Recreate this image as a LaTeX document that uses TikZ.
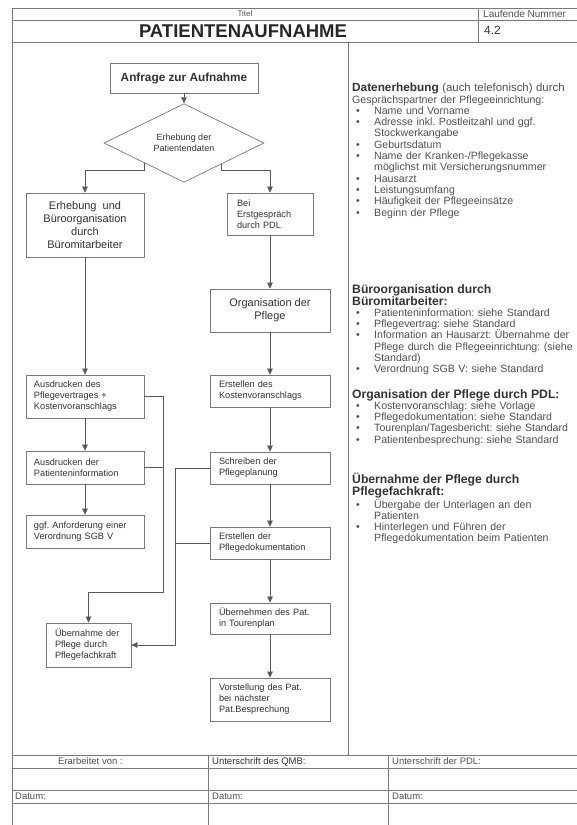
\documentclass[tikz,border=0pt]{standalone}
\usepackage{fontspec}
\setmainfont{Liberation Sans}
\usepackage{tikz}
\usetikzlibrary{arrows.meta,calc,positioning,shapes.geometric}
\definecolor{rulegray}{HTML}{7A7A7A}
\definecolor{ink}{HTML}{333333}
\definecolor{softink}{HTML}{505050}
\frenchspacing
\tikzset{
  flowbox/.style={draw=rulegray, line width=0.7pt, fill=white, inner sep=0pt,
    text=ink, align=left, font=\fontsize{9.2}{11}\selectfont},
  bigbox/.style={flowbox, align=center, font=\fontsize{11}{13}\selectfont},
  decision/.style={diamond, draw=rulegray, line width=0.7pt, inner sep=0pt,
    minimum width=160pt, minimum height=52pt, align=center, text=ink,
    font=\fontsize{9}{11.5}\selectfont},
  arr/.style={draw=black!65, line width=0.6pt, -{Triangle[length=6pt,width=5.5pt]}},
  plainlink/.style={draw=black!65, line width=0.6pt},
  rulestroke/.style={draw=rulegray, line width=0.8pt},
  infotext/.style={anchor=north west, inner sep=0pt, text width=240pt, align=left,
    text=softink, font=\fontsize{10.6}{11.3}\selectfont},
  formtext/.style={anchor=west, inner sep=0pt, text=softink, font=\fontsize{9.5}{10}\selectfont}
}
\newcommand{\infoitem}[1]{\par\hangindent=22pt\hangafter=1\noindent\hbox to 22pt{\hspace{4pt}\textbullet\hfil}#1\par}
\newcommand{\infohead}[1]{{\color{ink}\bfseries\fontsize{12.2}{12}\selectfont #1\par}}

\begin{document}
\begin{tikzpicture}[x=1pt,y=-1pt]
\useasboundingbox (0,0) rectangle (577,825);

% form frame
\draw[rulestroke] (12,825) -- (12,8) -- (577,8);
\draw[rulestroke] (12,20) -- (577,20);
\draw[rulestroke] (12,42) -- (577,42);
\draw[rulestroke] (478,8) -- (478,42);
\draw[rulestroke] (348,42) -- (348,755);
\foreach \y in {755,768,790,803}
  \draw[rulestroke] (12,\y) -- (577,\y);
\foreach \x in {208,388}
  \draw[rulestroke] (\x,755) -- (\x,825);

% header
\node[inner sep=0pt, text=softink, font=\fontsize{8}{9}\selectfont] (titel) at (245,14) {Titel};
\node[inner sep=0pt, text=black!85, font=\bfseries\fontsize{18.5}{20}\selectfont] (titelname) at (243,31.5) {PATIENTENAUFNAHME};
\node[formtext, font=\fontsize{10}{10}\selectfont] (lfdnr) at (483,14) {Laufende Nummer};
\node[formtext, text=ink, font=\fontsize{12}{13}\selectfont] (nummer) at (484,30) {4.2};

% footer
\node[formtext] (erarbeitet) at (58,761.5) {Erarbeitet von :};
\node[formtext, text=ink] (qmb) at (212,761.5) {Unterschrift des QMB:};
\node[formtext] (pdl) at (392,761.5) {Unterschrift der PDL:};
\node[formtext] (datum1) at (15,796.5) {Datum:};
\node[formtext] (datum2) at (212,796.5) {Datum:};
\node[formtext] (datum3) at (392,796.5) {Datum:};

% flowchart
\node[flowbox, align=center, minimum width=148pt, minimum height=30pt,
  font=\bfseries\fontsize{11.8}{13}\selectfont] (anfrage) at (184,78) {Anfrage zur Aufnahme};
\node[decision] (erhebung) at (184,143) {Erhebung der\\Patientendaten};

\node[bigbox, minimum width=118pt, minimum height=64pt] (bueroorg) at (85,225) {Erhebung\ \ und\\Büroorganisation\\durch\\Büromitarbeiter};
\node[flowbox, minimum width=118pt, minimum height=43pt, text width=102pt] (vertrag) at (85,396.5) {Ausdrucken des\\Pflegevertrages +\\Kostenvoranschlags};
\node[flowbox, minimum width=118pt, minimum height=33pt, text width=102pt] (patinfo) at (85,467.5) {Ausdrucken der\\Patienteninformation};
\node[flowbox, minimum width=118pt, minimum height=33pt, text width=102pt] (verordnung) at (85,531.5) {ggf. Anforderung einer\\Verordnung SGB V};
\node[flowbox, minimum width=85pt, minimum height=44pt, text width=67pt] (uebernahme) at (88.5,645) {Übernahme der\\Pflege durch\\Pflegefachkraft};

\node[flowbox, minimum width=86pt, minimum height=42pt, text width=66pt] (erstgespraech) at (270,214) {Bei\\Erstgespräch\\durch PDL};
\node[bigbox, minimum width=120pt, minimum height=43pt] (orgpflege) at (270,310.5) {Organisation der\\Pflege};
\node[flowbox, minimum width=120pt, minimum height=32pt, text width=102pt] (kostenvor) at (270,391) {Erstellen des\\Kostenvoranschlags};
\node[flowbox, minimum width=120pt, minimum height=32pt, text width=102pt] (planung) at (270,468) {Schreiben der\\Pflegeplanung};
\node[flowbox, minimum width=120pt, minimum height=32pt, text width=102pt] (doku) at (270,543) {Erstellen der\\Pflegedokumentation};
\node[flowbox, minimum width=120pt, minimum height=31pt, text width=102pt] (tourenplan) at (270,618.5) {Übernehmen des Pat.\\in Tourenplan};
\node[flowbox, minimum width=120pt, minimum height=43pt, text width=102pt] (vorstellung) at (270,699.5) {Vorstellung des Pat.\\bei nächster\\Pat.Besprechung};

% connectors
\draw[arr] (anfrage) -- (erhebung);
\draw[arr] (erhebung.south west) -- (erhebung.south west |- 0,170) -| (bueroorg.north);
\draw[arr] (erhebung.-30) -- (erhebung.-30 |- 0,170) -| (erstgespraech.north);
\foreach \a/\b in {bueroorg/vertrag, vertrag/patinfo, patinfo/verordnung,
    erstgespraech/orgpflege, orgpflege/kostenvor, kostenvor/planung,
    planung/doku, doku/tourenplan, tourenplan/vorstellung}
  \draw[arr] (\a) -- (\b);

\coordinate (busL) at (163,592);
\draw[arr] (vertrag.east) -| (busL) -| (uebernahme.north);
\draw[plainlink] (patinfo.east) -- (patinfo.east -| busL);
\coordinate (busR) at (175,645);
\draw[arr] (planung.west) -| (busR) -- (uebernahme.east);
\draw[plainlink] (doku.west) -- (doku.west -| busR);

% notes on the right
\node[infotext] (datenerhebung) at (352,83) {%
  {\color{ink}\bfseries\fontsize{11.8}{11.3}\selectfont Datenerhebung} {\fontsize{11.4}{11.3}\selectfont(auch telefonisch) durch}\\Gesprächspartner der Pflegeeinrichtung:
  \infoitem{Name und Vorname}
  \infoitem{Adresse inkl. Postleitzahl und ggf.\newline Stockwerkangabe}
  \infoitem{Geburtsdatum}
  \infoitem{Name der Kranken-/Pflegekasse\newline möglichst mit Versicherungsnummer}
  \infoitem{Hausarzt}
  \infoitem{Leistungsumfang}
  \infoitem{Häufigkeit der Pflegeeinsätze}
  \infoitem{Beginn der Pflege}};
\node[infotext] (bueronotes) at (352,284) {%
  \infohead{Büroorganisation durch\\Büromitarbeiter:}
  \infoitem{Patienteninformation: siehe Standard}
  \infoitem{Pflegevertrag: siehe Standard}
  \infoitem{Information an Hausarzt: Übernahme der\newline Pflege durch die Pflegeeinrichtung: (siehe\newline Standard)}
  \infoitem{Verordnung SGB V: siehe Standard}};
\node[infotext] (pdlnotes) at (352,389) {%
  \infohead{Organisation der Pflege durch PDL:}
  \infoitem{Kostenvoranschlag: siehe Vorlage}
  \infoitem{Pflegedokumentation: siehe Standard}
  \infoitem{Tourenplan/Tagesbericht: siehe Standard}
  \infoitem{Patientenbesprechung: siehe Standard}};
\node[infotext] (fachkraftnotes) at (352,473) {%
  \infohead{Übernahme der Pflege durch\\Pflegefachkraft:}
  \infoitem{Übergabe der Unterlagen an den\newline Patienten}
  \infoitem{Hinterlegen und Führen der\newline Pflegedokumentation beim Patienten}};
\end{tikzpicture}
\end{document}
